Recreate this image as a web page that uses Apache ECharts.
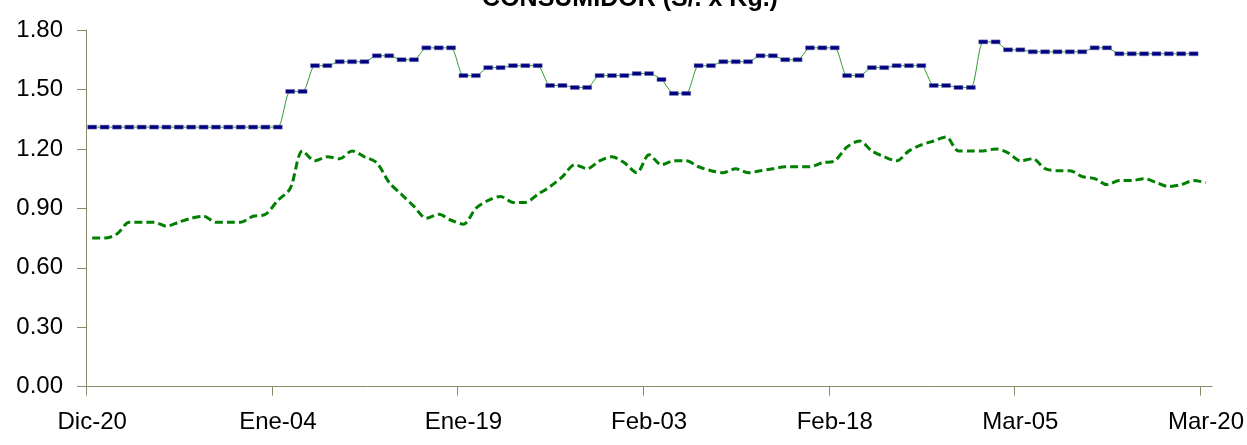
<!DOCTYPE html>
<html>
<head>
<meta charset="utf-8">
<script src="https://cdn.jsdelivr.net/npm/echarts@6/dist/echarts.min.js"></script>
<style>
html,body{margin:0;padding:0;background:#fff;}
#chart{width:1247px;height:445px;}
</style>
</head>
<body>
<div id="chart"></div>
<script>
// Category (day) labels: Dic-20 .. Mar-20
const monthSpans = [['Dic', 20, 31], ['Ene', 1, 31], ['Feb', 1, 28], ['Mar', 1, 20]];
const categories = [];
monthSpans.forEach(function (m) {
  for (let d = m[1]; d <= m[2]; d++) categories.push(m[0] + '-' + (d < 10 ? '0' + d : '' + d));
});

const titleText = 'CONSUMIDOR (S/. x Kg.)';
const yTicks = [0, 0.3, 0.6, 0.9, 1.2, 1.5, 1.8];
const xTickStep = 15;

// Series 1 (navy dash markers, thin green line)
const seriesA = [
  1.31,1.31,1.31,1.31,1.31,1.31,1.31,1.31,1.31,1.31,1.31,1.31,1.31,1.31,1.31,1.31,
  1.49,1.49,
  1.62,1.62,
  1.64,1.64,1.64,
  1.67,1.67,
  1.65,1.65,
  1.71,1.71,1.71,
  1.57,1.57,
  1.61,1.61,
  1.62,1.62,1.62,
  1.52,1.52,
  1.51,1.51,
  1.57,1.57,1.57,
  1.58,1.58,
  1.55,
  1.48,1.48,
  1.62,1.62,
  1.64,1.64,1.64,
  1.67,1.67,
  1.65,1.65,
  1.71,1.71,1.71,
  1.57,1.57,
  1.61,1.61,
  1.62,1.62,1.62,
  1.52,1.52,
  1.51,1.51,
  1.74,1.74,
  1.70,1.70,
  1.69,1.69,1.69,1.69,1.69,
  1.71,1.71,
  1.68,1.68,1.68,1.68,1.68,1.68,1.68,
  null
];

// Series 2 (green dashed line)
const seriesB = [
  0.75,0.75,0.77,0.83,0.83,0.83,0.81,0.83,0.85,0.86,
  0.83,0.83,0.83,0.86,0.87,0.94,1.00,1.19,1.14,1.16,
  1.15,1.19,1.16,1.13,1.03,0.97,0.91,0.85,0.87,0.84,
  0.82,0.90,0.94,0.96,0.93,0.93,0.97,1.01,1.06,1.12,
  1.10,1.14,1.16,1.13,1.08,1.17,1.12,1.14,1.14,1.11,
  1.09,1.08,1.10,1.08,1.09,1.10,1.11,1.11,1.11,1.13,
  1.14,1.21,1.24,1.19,1.16,1.14,1.19,1.22,1.24,1.26,
  1.19,1.19,1.19,1.20,1.18,1.14,1.15,1.10,1.09,1.09,
  1.06,1.05,1.02,1.04,1.04,1.05,1.03,1.01,1.02,1.04,
  1.03
];

const axisColor = '#8a8a6a';
const FONT = '"Liberation Sans", Arial, sans-serif';

const chart = echarts.init(document.getElementById('chart'), null, {renderer: 'canvas'});
const titleGraphic = {
  type: 'text',
  id: 'title',
  style: {
    x: 630, y: 12,
    text: titleText,
    font: 'bold 25px ' + FONT,
    fill: '#000',
    textAlign: 'center',
    textVerticalAlign: 'bottom'
  }
};
chart.setOption({
  animation: false,
  backgroundColor: '#ffffff',
  graphic: [titleGraphic],
  grid: {left: 86, right: 34.5, top: 30, bottom: 58.3, containLabel: false},
  xAxis: {
    type: 'category',
    data: categories,
    boundaryGap: true,
    axisLine: {lineStyle: {color: axisColor, width: 1}},
    axisTick: {show: false},
    axisLabel: {interval: xTickStep - 1, margin: 24, color: '#000', fontFamily: FONT, fontSize: 24},
    splitLine: {show: false}
  },
  yAxis: {
    type: 'value',
    min: yTicks[0],
    max: yTicks[yTicks.length - 1],
    interval: 0.3,
    axisLine: {show: true, lineStyle: {color: axisColor, width: 1}},
    axisTick: {show: true, length: 9, lineStyle: {color: axisColor}},
    axisLabel: {margin: 23, color: '#000', fontFamily: FONT, fontSize: 24,
      formatter: function (v) { return v.toFixed(2); }},
    splitLine: {show: false}
  },
  series: [
    {
      type: 'line',
      data: seriesA,
      smooth: 0.25,
      symbol: 'rect',
      symbolSize: [9, 4],
      showAllSymbol: true,
      itemStyle: {color: '#000080', borderColor: '#7a7ab8', borderWidth: 0.5},
      lineStyle: {color: '#2f9a2f', width: 1},
      z: 3
    },
    {
      type: 'line',
      data: seriesB,
      smooth: 0.3,
      showSymbol: false,
      symbol: 'none',
      lineStyle: {color: '#008000', width: 3, type: [8, 4]},
      z: 2
    }
  ]
});

// x-axis tick marks at the left boundary of each labelled category (via the axis scale)
const x0 = chart.convertToPixel({xAxisIndex: 0}, 0);
const x1 = chart.convertToPixel({xAxisIndex: 0}, 1);
const band = x1 - x0;
const yBase = chart.convertToPixel({yAxisIndex: 0}, yTicks[0]);
const tickGraphics = [titleGraphic];
for (let i = 0; i < categories.length; i += xTickStep) {
  const cx = Math.round(chart.convertToPixel({xAxisIndex: 0}, i) - band / 2) + 0.5;
  tickGraphics.push({
    type: 'line',
    id: 'xt' + i,
    shape: {x1: cx, y1: yBase, x2: cx, y2: yBase + 9},
    style: {stroke: axisColor, lineWidth: 1},
    silent: true
  });
}
chart.setOption({graphic: tickGraphics});
</script>
</body>
</html>
